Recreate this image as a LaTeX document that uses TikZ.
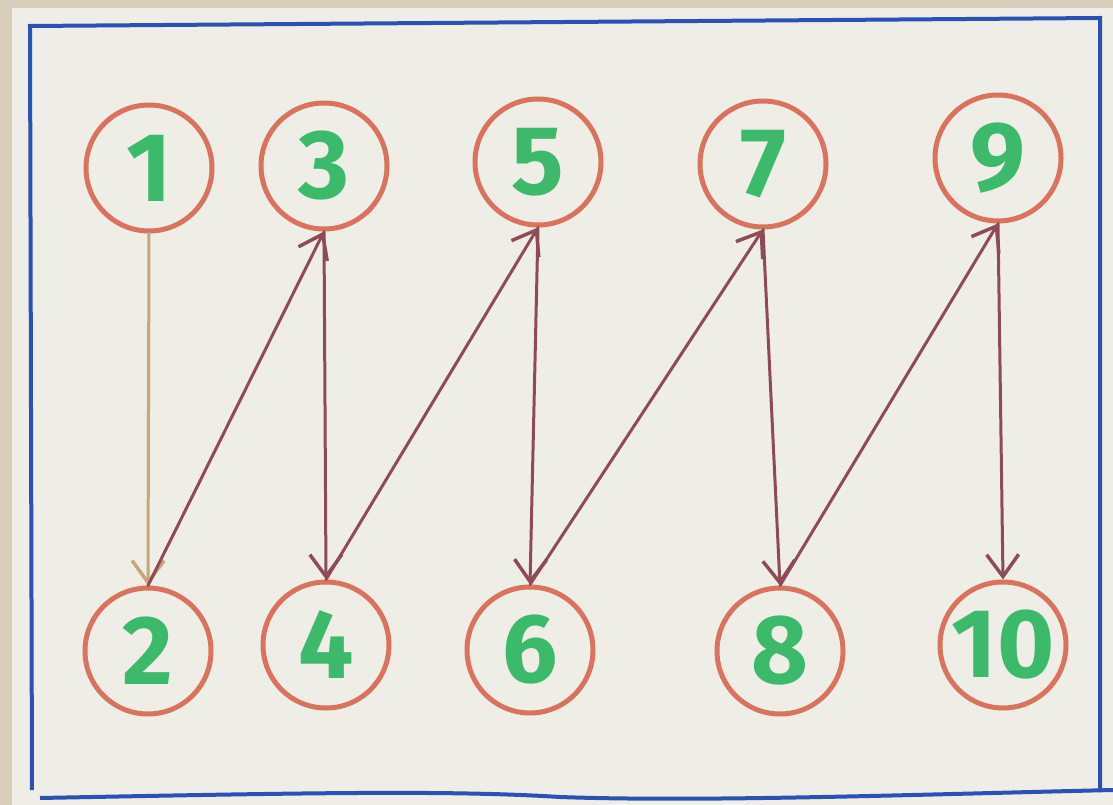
\documentclass[tikz,border=0pt]{standalone}
\usepackage{fontspec}
\setsansfont{Fira Sans}
\usetikzlibrary{arrows.meta}
\definecolor{paper}{HTML}{EEEEE6}
\definecolor{edgepaper}{HTML}{D8CDB8}
\definecolor{ring}{HTML}{D9735F}
\definecolor{digit}{HTML}{3DB96C}
\definecolor{penline}{HTML}{8E4A55}
\definecolor{tanline}{HTML}{C9A57A}
\definecolor{frameblue}{HTML}{2C50B4}
\tikzset{
  x=1pt, y=-1pt,
  numnode/.style={circle, draw=ring, line width=5pt, minimum size=126pt, inner sep=0pt,
    text=digit, font=\sffamily\bfseries\fontsize{98}{98}\selectfont},
  link/.style={draw=penline, line width=3pt, line cap=round,
    -{Straight Barb[length=22pt,width=32pt,line width=3.5pt]}},
  firstlink/.style={link, draw=tanline},
  framepen/.style={draw=frameblue, line width=4pt}
}
\begin{document}
\begin{tikzpicture}
\useasboundingbox (0,0) rectangle (1113,805);
\fill[edgepaper] (0,0) rectangle (1113,805);
\fill[paper] (12,8) rectangle (1113,805);
\draw[framepen] (32,790) -- (30,26) -- (1100,18) -- (1100,790);
\draw[framepen] (40,798) .. controls (300,793) and (450,790) .. (560,797) .. controls (700,802) and (900,795) .. (1113,790);
\node[numnode] (n1) at (149,168) {1};
\node[numnode] (n3) at (324,166) {3};
\node[numnode] (n5) at (538,162) {5};
\node[numnode] (n7) at (763,164) {7};
\node[numnode] (n9) at (998,158) {9};
\node[numnode] (n2) at (148,651) {2};
\node[numnode] (n4) at (326,645) {4};
\node[numnode] (n6) at (530,650) {6};
\node[numnode] (n8) at (780,651) {8};
\node[numnode] (n10) at (1003,645) {10};
\draw[firstlink] (n1.south) -- (n2.north);
\draw[link] (n2.north) -- (n3.south);
\draw[link] (n3.south) -- (n4.north);
\draw[link] (n4.north) -- (n5.south);
\draw[link] (n5.south) -- (n6.north);
\draw[link] (n6.north) -- (n7.south);
\draw[link] (n7.south) -- (n8.north);
\draw[link] (n8.north) -- (n9.south);
\draw[link] (n9.south) -- (n10.north);
\end{tikzpicture}
\end{document}
